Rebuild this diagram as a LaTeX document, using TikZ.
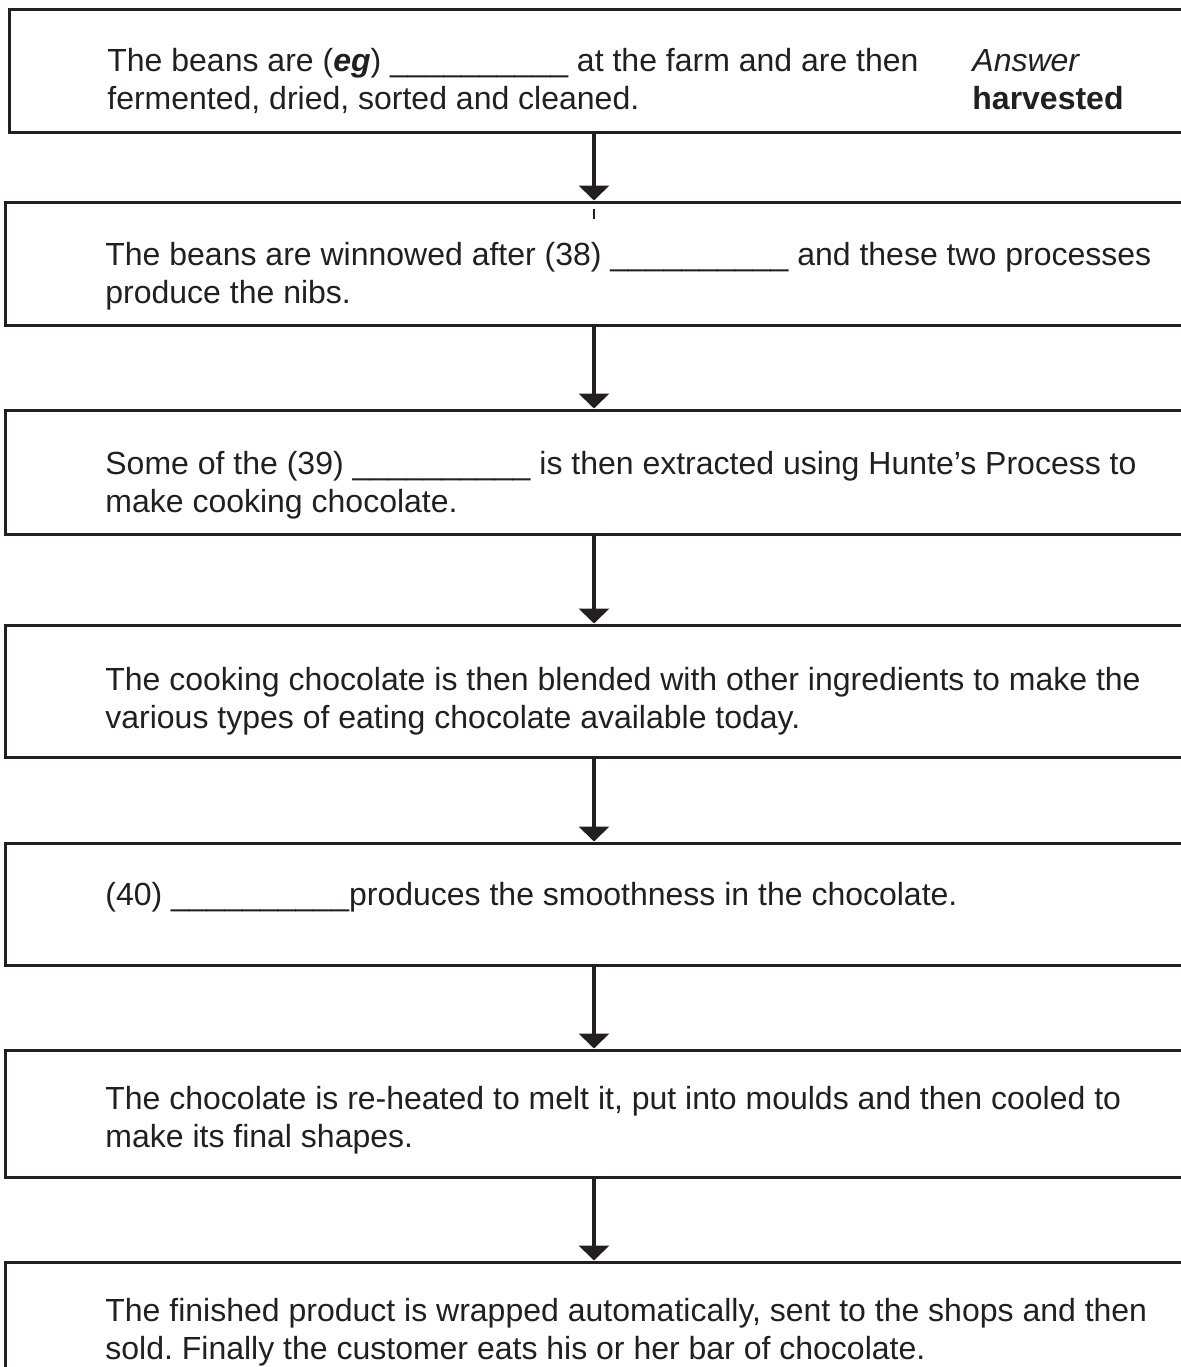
\documentclass[tikz,border=0pt]{standalone}
\usepackage{fontspec}
\setmainfont{Liberation Sans}
\usetikzlibrary{arrows.meta}
\definecolor{ink}{HTML}{231F20}
\frenchspacing
\tikzset{
  stepbox/.style={draw=ink, line width=1.5pt, inner sep=0pt},
  steptext/.style={anchor=base west, align=left, inner sep=0pt, text=ink,
    font=\fontsize{16}{19}\selectfont},
  flow/.style={draw=ink, line width=2.2pt, -{Triangle[width=15pt,length=7.5pt]}}
}
\newcommand{\blank}{\_\_\_\_\_\_\_\_\_\_}
\begin{document}
\begin{tikzpicture}[x=0.5pt, y=-0.5pt]
\useasboundingbox (0,0) rectangle (1180,1367);
\coordinate (axis) at (594,0);
% the seven steps
\node[stepbox, minimum width=595.5pt, minimum height=61.5pt] (b1) at (604.5,70.5) {};
\node[stepbox, minimum width=597.5pt, minimum height=61.5pt] (b2) at (602.5,263.5) {};
\node[stepbox, minimum width=597.5pt, minimum height=62pt] (b3) at (602.5,472) {};
\node[stepbox, minimum width=597.5pt, minimum height=66pt] (b4) at (602.5,691) {};
\node[stepbox, minimum width=597.5pt, minimum height=61pt] (b5) at (602.5,904) {};
\node[stepbox, minimum width=597.5pt, minimum height=63.5pt] (b6) at (602.5,1113.5) {};
\node[stepbox, minimum width=597.5pt, minimum height=79pt] (b7) at (602.5,1341) {};

% base of a two-line node sits below its last line
\node[steptext] (t1) at (107,109) {The beans are (\textbf{\textit{eg}}) \blank{} at the farm and are then\\fermented, dried, sorted and cleaned.};
\node[steptext] (ans) at (972,109) {\textit{Answer}\\\textbf{harvested}};
\node[steptext] (t2) at (105,303) {The beans are winnowed after (38) \blank{} and these two processes\\produce the nibs.};
\node[steptext] (t3) at (105,512) {Some of the (39) \blank{} is then extracted using Hunte’s Process to\\make cooking chocolate.};
\node[steptext] (t4) at (105,728) {The cooking chocolate is then blended with other ingredients to make the\\various types of eating chocolate available today.};
\node[steptext] (t5) at (105,905) {(40) \blank{}produces the smoothness in the chocolate.};
\node[steptext] (t6) at (105,1147) {The chocolate is re-heated to melt it, put into moulds and then cooled to\\make its final shapes.};
\node[steptext] (t7) at (105,1359) {The finished product is wrapped automatically, sent to the shops and then\\sold. Finally the customer eats his or her bar of chocolate.};

\foreach \a/\b in {b1/b2,b2/b3,b3/b4,b4/b5,b5/b6,b6/b7}
  \draw[flow] (\a.south -| axis) -- (\b.north -| axis);
\draw[ink, line width=1pt] ([yshift=-4pt]b2.north -| axis) -- ++(0,10);
\end{tikzpicture}
\end{document}
